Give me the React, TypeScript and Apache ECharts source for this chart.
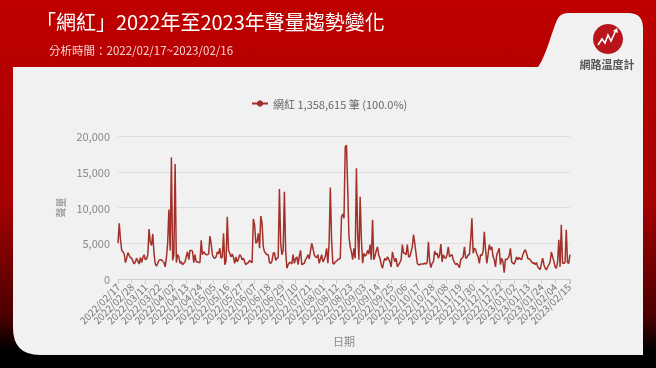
import React, { useEffect, useRef } from "react";
import * as echarts from "echarts";

const START_DATE = "2022-02-17";
const DAY_COUNT = 365;
const LABEL_STEP = 11;
const SERIES_NAME = "網紅 1,358,615 筆 (100.0%)";
const TITLE = "「網紅」2022年至2023年聲量趨勢變化";
const SUBTITLE = "分析時間：2022/02/17~2023/02/16";
const Y_TICKS = [0, 5000, 10000, 15000, 20000];

const volumes = [
  5000, 7800, 5500, 4000, 3800, 3500, 2300, 2900, 3700, 3300,
  3000, 2900, 2500, 2100, 2400, 2900, 2500, 2100, 3000, 2300,
  3000, 3400, 2700, 2800, 3400, 7000, 5100, 4700, 6300, 3600,
  2100, 1800, 2200, 2600, 2700, 2700, 2500, 2300, 1700, 3000,
  5000, 9700, 4000, 17000, 2600, 3300, 16100, 2300, 3400, 3100,
  2200, 2400, 2000, 2200, 2400, 3200, 3800, 2700, 4000, 4000,
  3900, 2300, 3400, 2400, 2400, 2300, 2300, 5400, 3400, 3800,
  3600, 3400, 3400, 3500, 6000, 5000, 3400, 3000, 2900, 3100,
  3800, 3500, 4300, 2900, 3100, 6400, 2000, 2500, 8700, 4000,
  3600, 3100, 3500, 3000, 2200, 3100, 2400, 2800, 3400, 3200,
  2700, 2900, 2400, 2000, 2200, 2300, 2600, 2400, 2300, 8400,
  7600, 5000, 5200, 6400, 4300, 8800, 7800, 4500, 3800, 3600,
  3400, 3400, 2300, 2200, 2500, 3600, 3700, 2600, 2900, 3000,
  12600, 5000, 3400, 4000, 12200, 4000, 1500, 2000, 2300, 2300,
  2100, 3400, 2200, 2800, 3100, 2000, 3200, 4000, 2000, 2100,
  2200, 2700, 3000, 3400, 2800, 3900, 5000, 4300, 3400, 3100,
  3000, 3400, 2200, 2800, 3400, 2400, 2700, 3200, 4300, 2200,
  5000, 12800, 5500, 2200, 2100, 2400, 2500, 2700, 2800, 2900,
  8700, 9100, 8500, 18500, 18700, 12500, 5900, 4500, 3800, 2700,
  4300, 2900, 15500, 6400, 2700, 11500, 5500, 2200, 3600, 3200,
  3400, 4000, 3500, 4800, 2700, 8300, 2700, 3200, 4000, 4500,
  3300, 2900, 2000, 1500, 2400, 2900, 2600, 3100, 2800, 2400,
  1700, 3800, 3000, 2400, 2900, 1700, 2000, 2300, 2700, 4800,
  3600, 3600, 3400, 4800, 3100, 3100, 3800, 4500, 6200, 5000,
  3600, 2200, 2000, 2000, 2100, 2100, 2100, 2200, 2100, 2300,
  5200, 2400, 1600, 2200, 2400, 3900, 3400, 3600, 2900, 3400,
  4900, 2400, 3400, 3000, 2900, 3400, 4500, 3100, 3300, 3400,
  2700, 2300, 2000, 2200, 1900, 1600, 2700, 2900, 3100, 4500,
  2900, 3000, 3400, 3400, 5500, 8500, 3600, 4300, 4100, 3500,
  3100, 2200, 3400, 3300, 3800, 6600, 4100, 2200, 3400, 4800,
  4100, 4500, 3200, 2700, 1700, 3400, 3800, 4300, 2000, 2900,
  2400, 900, 2800, 2700, 2900, 3200, 4300, 2400, 2200, 2100,
  2500, 3100, 2700, 3000, 2800, 2700, 3400, 3800, 4100, 3600,
  2900, 2800, 2700, 2400, 2200, 2300, 2000, 2300, 1700, 1500,
  1300, 2200, 2900, 2000, 1500, 1300, 1700, 2000, 2400, 3800,
  3100, 2500, 1700, 1500, 2400, 5500, 1700, 7600, 2200, 2200,
  2300, 6900, 2300, 2200, 3400,
];

function buildDates(): string[] {
  const out: string[] = [];
  const start = new Date(START_DATE + "T00:00:00Z").getTime();
  for (let i = 0; i < DAY_COUNT; i++) {
    const d = new Date(start + i * 86400000);
    const m = String(d.getUTCMonth() + 1).padStart(2, "0");
    const dd = String(d.getUTCDate()).padStart(2, "0");
    out.push(`${d.getUTCFullYear()}/${m}/${dd}`);
  }
  return out;
}

const FONT = '"Noto Sans CJK TC", "Noto Sans", sans-serif';

echarts.graphic.registerShape(
  "cardShape",
  echarts.graphic.extendPath(
    "M13,67 L538,67 C546,56 551,34 557,20 Q560,13 568,13 L628,13 Q643,13 643,28 L643,355 L40,355 Q13,355 13,328 Z",
    {}
  )
);

export default function App() {
  const ref = useRef<HTMLDivElement>(null);
  useEffect(() => {
    if (!ref.current) return;
    const chart = echarts.init(ref.current, undefined, { renderer: "svg" });
    const dates = buildDates();
    const lineColor = "#a3302a";
    chart.setOption({
      animation: false,
      textStyle: { fontFamily: FONT },
      graphic: [
        {
          type: "rect",
          z: -100,
          silent: true,
          shape: { x: 0, y: 0, width: 656, height: 368 },
          style: {
            fill: new echarts.graphic.LinearGradient(0, 0, 0, 1, [
              { offset: 0, color: "#bf0000" },
              { offset: 0.55, color: "#a60000" },
              { offset: 0.86, color: "#4a0000" },
              { offset: 0.95, color: "#000000" },
              { offset: 1, color: "#000000" },
            ]),
          },
        },
        {
          type: "cardShape",
          z: -90,
          silent: true,
          x: 0,
          y: 0,
          style: { fill: "#f1f1f1" },
        },
        {
          type: "text",
          z: 10,
          x: 36,
          y: 21,
          style: {
            text: TITLE,
            fill: "#ffffff",
            fontSize: 20,
            fontFamily: FONT,
            verticalAlign: "middle",
          },
        },
        {
          type: "text",
          z: 10,
          x: 49,
          y: 50,
          style: {
            text: SUBTITLE,
            fill: "#f6d2d2",
            fontSize: 11.5,
            fontFamily: FONT,
            verticalAlign: "middle",
          },
        },
        {
          type: "circle",
          z: 10,
          shape: { cx: 608, cy: 39, r: 15 },
          style: { fill: "#b8141c" },
        },
        {
          type: "polyline",
          z: 11,
          shape: {
            points: [
              [598, 45],
              [602, 39],
              [605, 43],
              [608, 35],
              [611, 41],
              [616, 30],
            ],
          },
          style: { stroke: "#ffffff", lineWidth: 1.6, fill: null },
        },
        {
          type: "polygon",
          z: 11,
          shape: { points: [[617, 28], [613, 31], [618, 33]] },
          style: { fill: "#ffffff" },
        },
        {
          type: "text",
          z: 10,
          x: 607,
          y: 64,
          style: {
            text: "網路溫度計",
            fill: "#555555",
            fontSize: 11,
            fontWeight: "bold",
            fontFamily: FONT,
            align: "center",
            verticalAlign: "middle",
          },
        },
      ],
      legend: {
        left: 246,
        top: 93,
        itemWidth: 16,
        itemHeight: 8,
        textStyle: { color: "#666", fontSize: 11, fontFamily: FONT },
        data: [SERIES_NAME],
      },
      grid: { left: 118, right: 86, top: 136, bottom: 89 },
      xAxis: {
        type: "category",
        data: dates,
        boundaryGap: false,
        name: "日期",
        nameLocation: "middle",
        nameGap: 56,
        nameTextStyle: { color: "#888", fontSize: 11, fontFamily: FONT },
        axisLine: { lineStyle: { color: "#cccccc" } },
        axisTick: { show: true, interval: LABEL_STEP - 1, lineStyle: { color: "#cccccc" } },
        axisLabel: {
          interval: 0,
          rotate: 45,
          fontSize: 10,
          color: "#777",
          margin: 6,
          fontFamily: FONT,
          formatter: (v: string, i: number) => (i % LABEL_STEP === 0 ? v : ""),
        },
        splitLine: { show: false },
      },
      yAxis: {
        type: "value",
        min: Y_TICKS[0],
        max: Y_TICKS[Y_TICKS.length - 1],
        interval: Y_TICKS[1] - Y_TICKS[0],
        name: "聲量",
        nameLocation: "middle",
        nameGap: 52,
        nameRotate: 90,
        nameTextStyle: { color: "#888", fontSize: 10, fontFamily: FONT },
        axisLine: { show: false },
        axisTick: { show: false },
        axisLabel: {
          color: "#888",
          fontSize: 11,
          margin: 8,
          fontFamily: FONT,
          formatter: (v: number) => v.toLocaleString("en-US"),
        },
        splitLine: { lineStyle: { color: "#dddddd" } },
      },
      series: [
        {
          type: "line",
          name: SERIES_NAME,
          data: volumes,
          showSymbol: false,
          symbol: "circle",
          symbolSize: 6,
          lineStyle: { width: 1.5, color: lineColor },
          itemStyle: { color: lineColor },
        },
      ],
    });
    return () => chart.dispose();
  }, []);
  return (
    <div
      ref={ref}
      style={{ position: "fixed", left: 0, top: 0, width: 656, height: 368 }}
    />
  );
}
